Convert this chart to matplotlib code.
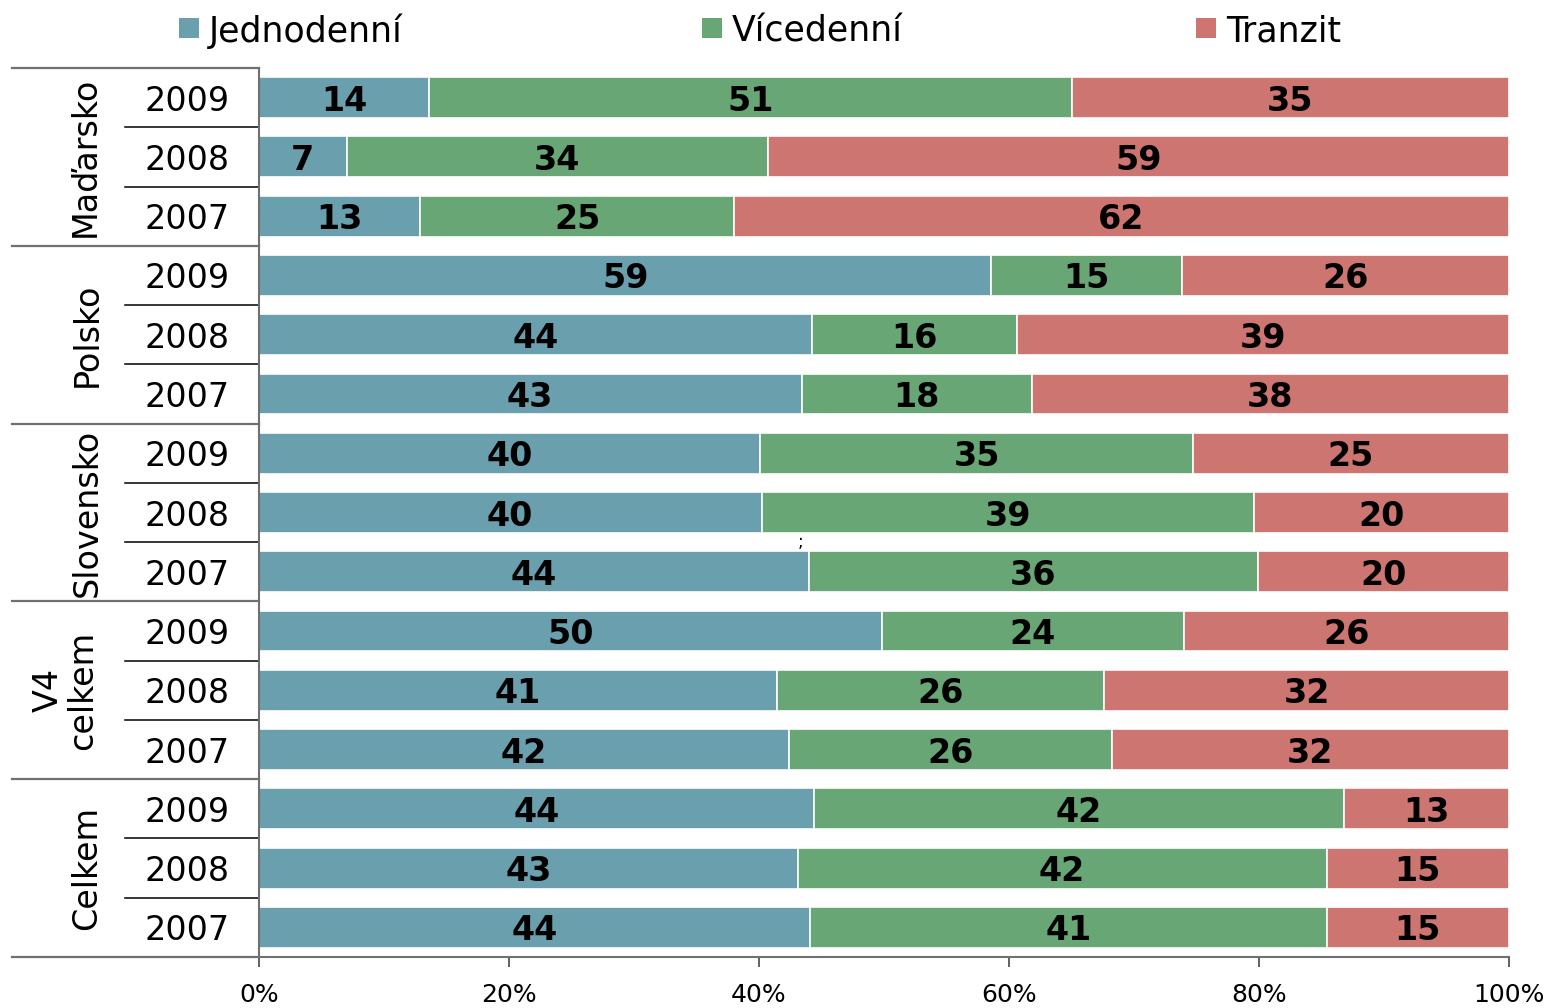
import matplotlib
matplotlib.use("Agg")
import matplotlib.pyplot as plt
import matplotlib.transforms as mtransforms
from matplotlib.patches import Rectangle
import numpy as np

plt.rcParams['font.family'] = ['DejaVu Sans']

series_names = ["Jednodenní", "Vícedenní", "Tranzit"]
colors = ["#6a9fad", "#68a675", "#cd7570"]

groups = ["Maďarsko", "Polsko", "Slovensko", "V4\ncelkem", "Celkem"]
years = ["2009", "2008", "2007"]

# rows top to bottom (group-major, years 2009, 2008, 2007)
jednodenni = [13.6, 7.0, 12.9, 58.6, 44.2, 43.4, 40.1, 40.2, 44.0, 49.8, 41.4, 42.4, 44.4, 43.1, 44.1]
vicedenni = [51.4, 33.7, 25.1, 15.2, 16.4, 18.4, 34.6, 39.4, 35.9, 24.2, 26.2, 25.8, 42.4, 42.3, 41.3]
tranzit = [35.0, 59.3, 62.0, 26.2, 39.4, 38.2, 25.3, 20.4, 20.1, 26.0, 32.4, 31.8, 13.2, 14.6, 14.6]

xticks = [0, 20, 40, 60, 80, 100]
xticklabels = ["0%", "20%", "40%", "60%", "80%", "100%"]

W, H = 1551, 1008
fig = plt.figure(figsize=(W / 100, H / 100), dpi=100)
ax = fig.add_axes([259 / W, 1 - 957 / H, 1250 / W, 889 / H])

data = np.array([jednodenni, vicedenni, tranzit])
data = data / data.sum(axis=0) * 100
n = data.shape[1]
ypos = np.arange(n)
left = np.zeros(n)
for i in range(3):
    ax.barh(ypos, data[i], left=left, height=0.69, color=colors[i],
            edgecolor="white", linewidth=1.2)
    raw = [jednodenni, vicedenni, tranzit][i]
    for j in range(n):
        ax.text(left[j] + data[i][j] / 2, ypos[j], f"{raw[j]:.0f}",
                ha="center", va="center_baseline", fontsize=24, fontweight="bold",
                color="black")
    left += data[i]

ax.set_xlim(0, 100)
ax.set_ylim(n - 0.5, -0.5)
ax.set_yticks([])
ax.set_xticks(xticks)
ax.set_xticklabels(xticklabels, fontsize=18)
ax.tick_params(axis="x", direction="out", length=7, width=1.3, color="#555555", pad=12)
for s in ["top", "right"]:
    ax.spines[s].set_visible(False)
for s in ["left", "bottom"]:
    ax.spines[s].set_color("#707070")
    ax.spines[s].set_linewidth(1.5)

trans = mtransforms.blended_transform_factory(fig.transFigure, ax.transData)
# group separators
for g in range(len(groups) + 1):
    y = g * 3 - 0.5
    ax.plot([12 / W, 259 / W], [y, y], transform=trans, color="#707070",
            lw=1.6, clip_on=False)
# year separators
for g in range(len(groups)):
    for k in (1, 2):
        y = g * 3 + k - 0.5
        ax.plot([125 / W, 259 / W], [y, y], transform=trans, color="black",
                lw=1.1, clip_on=False)
# year labels
for j in range(n):
    ax.text(187 / W, j, years[j % 3], transform=trans, ha="center",
            va="center_baseline", fontsize=24)
# group labels
gx = [85, 87, 87, 65, 87]
for g, name in enumerate(groups):
    ax.text(gx[g] / W, g * 3 + 1, name, transform=trans, ha="center",
            va="center", rotation=90, fontsize=24, multialignment="center",
            linespacing=1.05)

# stray mark present in the original
ax.text(43.3, 7.5, ";", ha="center", va="center", fontsize=12)

# legend
leg_sq = [179, 702, 1196]
for k, name in enumerate(series_names):
    fig.patches.append(Rectangle((leg_sq[k] / W, 1 - 38 / H), 20 / W, 20 / H,
                                 transform=fig.transFigure,
                                 facecolor=colors[k], edgecolor="none"))
    fig.text((leg_sq[k] + 30) / W, 1 - 28 / H, name, ha="left", va="center_baseline",
             fontsize=25)

fig.savefig("out.png", dpi=100)
